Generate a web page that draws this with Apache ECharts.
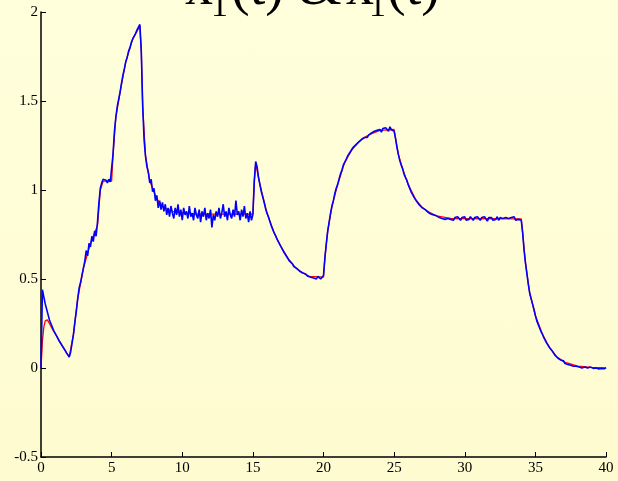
<!DOCTYPE html>
<html>
<head>
<meta charset="utf-8">
<script src="https://cdn.jsdelivr.net/npm/echarts@6/dist/echarts.min.js"></script>
<style>
html,body{margin:0;padding:0;width:618px;height:481px;overflow:hidden;background:linear-gradient(#FFFFDC,#FEFBD0);}
#c{width:618px;height:481px;}
</style>
</head>
<body>
<div id="c"></div>
<script>
// x-axis ticks
const xTicks = [0, 5, 10, 15, 20, 25, 30, 35, 40];
const yTicks = [-0.5, 0, 0.5, 1, 1.5, 2];

// true state x1(t) (red), read at irregular times
const trueT = [0,0.1,0.2,0.3,0.45,0.6,0.8,1.0,1.5,2.0,2.3,2.6,3.0,3.5,4.0,4.2,4.4,5.0,5.1,5.3,5.6,6.0,6.5,7.0,7.1,7.2,7.4,7.7,8.2,8.7,9.5,11,13,15,15.1,15.2,15.5,16,16.5,17,17.5,18,18.5,19,20,20.1,20.3,20.6,21,21.5,22,22.5,23,23.5,24,25,25.1,25.3,25.6,26,26.5,27,27.5,28,29,34,34.1,34.3,34.6,35,35.5,36,36.5,37,38,39,40];
const trueX = [0,0.15,0.23,0.265,0.27,0.25,0.22,0.195,0.125,0.062,0.19,0.39,0.56,0.70,0.80,1.0,1.05,1.05,1.2,1.41,1.55,1.72,1.85,1.92,1.78,1.47,1.19,1.05,0.95,0.90,0.875,0.865,0.865,0.865,1.05,1.15,1.03,0.87,0.76,0.68,0.615,0.565,0.535,0.515,0.51,0.62,0.77,0.91,1.03,1.155,1.225,1.27,1.30,1.32,1.335,1.34,1.29,1.2,1.12,1.03,0.95,0.90,0.875,0.855,0.84,0.838,0.76,0.59,0.42,0.295,0.19,0.115,0.065,0.035,0.01,0.004,0.001];

// estimate x̂1(t) (blue), sampled every 0.1 s from t = 0 to 40
const estStep = 0.1;
const estX = [
  0, 0.44, 0.40, 0.36, 0.33, 0.30, 0.27, 0.25, 0.23, 0.21,
  0.195, 0.18, 0.165, 0.15, 0.14, 0.125, 0.115, 0.10, 0.085, 0.075,
  0.062, 0.09, 0.14, 0.19, 0.26, 0.32, 0.39, 0.45, 0.48, 0.52,
  0.56, 0.60, 0.66, 0.63, 0.70, 0.68, 0.74, 0.71, 0.77, 0.74,
  0.82, 0.93, 1.01, 1.04, 1.06, 1.05, 1.055, 1.04, 1.06, 1.045,
  1.05, 1.20, 1.33, 1.41, 1.47, 1.51, 1.55, 1.60, 1.645, 1.68,
  1.72, 1.745, 1.78, 1.80, 1.83, 1.85, 1.865, 1.88, 1.90, 1.915,
  1.93, 1.78, 1.47, 1.28, 1.19, 1.13, 1.10, 1.04, 1.06, 0.99,
  1.01, 0.94, 0.97, 0.90, 0.94, 0.89, 0.93, 0.88, 0.92, 0.86,
  0.90, 0.85, 0.91, 0.87, 0.84, 0.90, 0.86, 0.92, 0.85, 0.89,
  0.83, 0.90, 0.86, 0.88, 0.84, 0.91, 0.85, 0.87, 0.83, 0.90,
  0.86, 0.84, 0.89, 0.82, 0.88, 0.85, 0.90, 0.83, 0.87, 0.84,
  0.89, 0.79, 0.86, 0.83, 0.88, 0.85, 0.90, 0.84, 0.87, 0.92,
  0.85, 0.88, 0.83, 0.90, 0.86, 0.84, 0.89, 0.85, 0.94, 0.86,
  0.88, 0.83, 0.89, 0.85, 0.91, 0.84, 0.87, 0.82, 0.88, 0.83,
  0.86, 1.05, 1.16, 1.13, 1.07, 1.03, 0.99, 0.96, 0.93, 0.895,
  0.87, 0.85, 0.825, 0.80, 0.78, 0.76, 0.745, 0.725, 0.71, 0.695,
  0.68, 0.665, 0.65, 0.64, 0.625, 0.615, 0.60, 0.595, 0.585, 0.57,
  0.565, 0.56, 0.55, 0.545, 0.54, 0.535, 0.525, 0.53, 0.52, 0.515,
  0.52, 0.51, 0.515, 0.505, 0.51, 0.50, 0.515, 0.505, 0.50, 0.51,
  0.52, 0.62, 0.70, 0.77, 0.82, 0.87, 0.91, 0.94, 0.98, 1.01,
  1.03, 1.06, 1.09, 1.11, 1.14, 1.155, 1.17, 1.19, 1.20, 1.215,
  1.225, 1.24, 1.235, 1.255, 1.26, 1.27, 1.265, 1.285, 1.28, 1.295,
  1.30, 1.295, 1.31, 1.305, 1.32, 1.315, 1.33, 1.32, 1.335, 1.33,
  1.34, 1.325, 1.345, 1.335, 1.35, 1.34, 1.33, 1.355, 1.34, 1.345,
  1.33, 1.29, 1.24, 1.20, 1.165, 1.14, 1.12, 1.09, 1.07, 1.055,
  1.03, 1.01, 0.99, 0.975, 0.96, 0.95, 0.935, 0.925, 0.915, 0.91,
  0.90, 0.895, 0.89, 0.885, 0.875, 0.88, 0.865, 0.87, 0.86, 0.865,
  0.855, 0.86, 0.845, 0.855, 0.84, 0.85, 0.835, 0.845, 0.84, 0.85,
  0.835, 0.845, 0.83, 0.845, 0.835, 0.85, 0.84, 0.83, 0.845, 0.835,
  0.85, 0.83, 0.84, 0.835, 0.85, 0.84, 0.83, 0.845, 0.835, 0.85,
  0.84, 0.83, 0.845, 0.835, 0.85, 0.84, 0.825, 0.845, 0.835, 0.845,
  0.83, 0.84, 0.835, 0.85, 0.83, 0.845, 0.835, 0.84, 0.83, 0.845,
  0.835, 0.84, 0.83, 0.845, 0.835, 0.85, 0.83, 0.84, 0.835, 0.845,
  0.83, 0.76, 0.66, 0.59, 0.53, 0.47, 0.42, 0.39, 0.36, 0.33,
  0.295, 0.265, 0.245, 0.225, 0.205, 0.19, 0.17, 0.155, 0.14, 0.13,
  0.115, 0.105, 0.095, 0.085, 0.07, 0.065, 0.055, 0.05, 0.045, 0.035,
  0.04, 0.025, 0.03, 0.02, 0.025, 0.015, 0.02, 0.01, 0.02, 0.01,
  0.015, 0.005, 0.015, 0.0, 0.01, 0.005, 0.012, 0.0, 0.01, 0.005,
  0.012, -0.002, 0.008, 0.0, 0.01, -0.005, 0.005, -0.002, 0.006, -0.004,
  0.002
];

const trueData = trueT.map((t, i) => [t, trueX[i]]);
const estData = estX.map((v, i) => [+(i * estStep).toFixed(2), v]);

const serif = "'Liberation Serif', 'DejaVu Serif', serif";
const chart = echarts.init(document.getElementById('c'), null, {renderer: 'canvas'});
chart.setOption({
  backgroundColor: 'transparent',
  animation: false,
  grid: {left: 41, right: 12, top: 12, bottom: 24, containLabel: false, outerBoundsMode: 'none'},
  xAxis: {
    type: 'value', min: xTicks[0], max: xTicks[xTicks.length - 1], interval: 5,
    axisLine: {onZero: false, lineStyle: {color: '#000', width: 1.5}},
    axisTick: {inside: true, length: 5, lineStyle: {color: '#000', width: 1}},
    axisLabel: {color: '#000', fontFamily: serif, fontSize: 15, margin: 4},
    splitLine: {show: false}
  },
  yAxis: {
    type: 'value', min: yTicks[0], max: yTicks[yTicks.length - 1], interval: 0.5,
    axisLine: {show: true, onZero: false, lineStyle: {color: '#000', width: 1.5}},
    axisTick: {show: true, inside: true, length: 5, lineStyle: {color: '#000', width: 1}},
    axisLabel: {color: '#000', fontFamily: serif, fontSize: 15, margin: 3},
    splitLine: {show: false}
  },
  graphic: [
    {type: 'text', left: 185, top: -39, style: {text: 'x\u0302', font: '56px ' + serif, fill: '#000'}},
    {type: 'text', left: 211, top: -10, style: {text: '1', font: '34px ' + serif, fill: '#000'}},
    {type: 'text', left: 231, top: -39, style: {text: '(t)', font: '56px ' + serif, fill: '#000'}},
    {type: 'text', left: 298, top: -39, style: {text: '&', font: '56px ' + serif, fill: '#000'}},
    {type: 'text', left: 346, top: -39, style: {text: 'x', font: '56px ' + serif, fill: '#000'}},
    {type: 'text', left: 369, top: -10, style: {text: '1', font: '34px ' + serif, fill: '#000'}},
    {type: 'text', left: 387, top: -39, style: {text: '(t)', font: '56px ' + serif, fill: '#000'}}
  ],
  series: [
    {name: 'x1', type: 'line', data: trueData, showSymbol: false, smooth: false,
     lineStyle: {color: '#FF0000', width: 1.3}, z: 2},
    {name: 'x1hat', type: 'line', data: estData, showSymbol: false, smooth: false,
     lineStyle: {color: '#0000FF', width: 1.6}, z: 3}
  ]
});
</script>
</body>
</html>
